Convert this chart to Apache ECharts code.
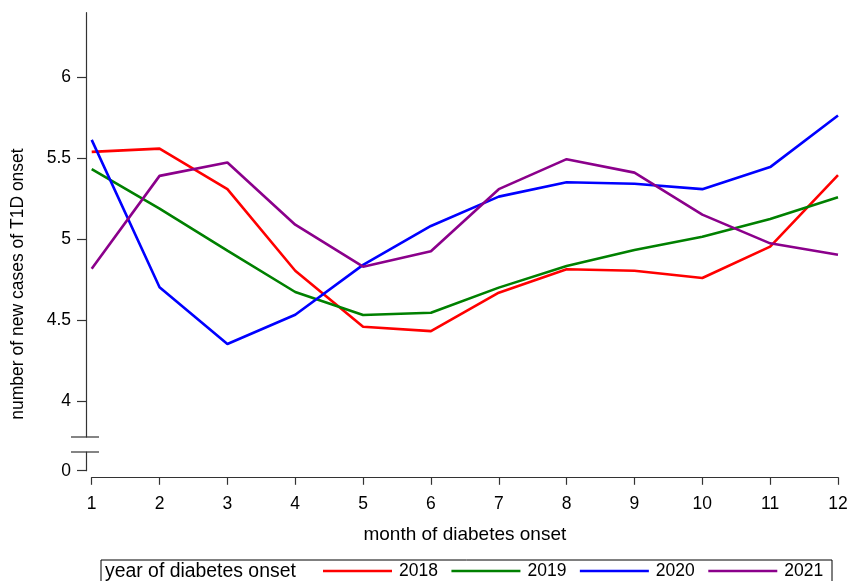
<!DOCTYPE html>
<html><head><meta charset="utf-8">
<script src="https://cdn.jsdelivr.net/npm/echarts@6/dist/echarts.min.js"></script>
<style>html,body{margin:0;padding:0;background:#fff}#c{width:851px;height:581px}</style>
</head><body><div id="c"></div>
<script>
// ---- data ----
const months = [1, 2, 3, 4, 5, 6, 7, 8, 9, 10, 11, 12];
const years = ['2018', '2019', '2020', '2021'];
const cases2018 = [5.537, 5.557, 5.307, 4.804, 4.459, 4.432, 4.669, 4.813, 4.804, 4.759, 4.953, 5.393];
const cases2019 = [5.430, 5.187, 4.928, 4.673, 4.531, 4.545, 4.700, 4.833, 4.932, 5.014, 5.123, 5.257];
const cases2020 = [5.611, 4.702, 4.352, 4.533, 4.840, 5.080, 5.261, 5.350, 5.340, 5.307, 5.443, 5.761];
const cases2021 = [4.817, 5.389, 5.471, 5.088, 4.829, 4.924, 5.307, 5.492, 5.409, 5.150, 4.973, 4.903];
const yTicksUpper = [4, 4.5, 5, 5.5, 6];
const yTicksLower = [0];
const xTicks = months;
const xTitle = 'month of diabetes onset';
const yTitle = 'number of new cases of T1D onset';
const legendTitle = 'year of diabetes onset';

// ---- styling / layout ----
const seriesData = [cases2018, cases2019, cases2020, cases2021];
const colors = ['#ff0000', '#008000', '#0000ff', '#8b008b'];
const FONT = '"Liberation Sans", Arial, Helvetica, sans-serif';
const AX = '#333';
const W = 851, H = 581;
const gLeft = 91.7, gRight = 13;
const upTop = 12.7, upBottomY = 437;
const loTop = 452, loBottomY = 470.7;
const upMin = 3.779, upMax = 6.395;
const pxPerUnit = (upBottomY - upTop) / (upMax - upMin);
const loMax = (loBottomY - loTop) / pxPerUnit;
const axisX = 86;

const chart = echarts.init(document.getElementById('c'), null, {renderer: 'canvas'});

const yAxisCommon = {
  type: 'value',
  position: 'left',
  offset: gLeft - axisX,
  axisLine: {show: true, lineStyle: {color: AX, width: 1.2}},
  axisTick: {show: true, inside: false, length: 9, lineStyle: {color: AX, width: 1.2}},
  splitLine: {show: false},
  axisLabel: {color: '#000', fontSize: 17.5, fontFamily: FONT, margin: 15, formatter: v => String(v)}
};

const option = {
  animation: false,
  backgroundColor: '#fff',
  grid: [
    {left: gLeft, right: gRight, top: upTop, bottom: H - upBottomY},
    {left: gLeft, right: gRight, top: loTop, bottom: H - loBottomY}
  ],
  xAxis: [
    {gridIndex: 0, type: 'value', min: 1, max: 12, show: false},
    {gridIndex: 1, type: 'value', min: 1, max: 12, interval: 1, offset: 6.6,
     axisLine: {show: true, onZero: false, lineStyle: {color: AX, width: 1.2}},
     axisTick: {show: true, length: 7.5, lineStyle: {color: AX, width: 1.2}},
     splitLine: {show: false},
     axisLabel: {color: '#000', fontSize: 17.5, fontFamily: FONT, margin: 18,
                 customValues: xTicks, formatter: v => String(v)},
     name: xTitle, nameLocation: 'middle', nameGap: 48,
     nameTextStyle: {color: '#000', fontSize: 19, fontFamily: FONT}}
  ],
  yAxis: [
    Object.assign({}, yAxisCommon, {gridIndex: 0, min: upMin, max: upMax,
      axisTick: Object.assign({}, yAxisCommon.axisTick, {customValues: yTicksUpper}),
      axisLabel: Object.assign({}, yAxisCommon.axisLabel, {customValues: yTicksUpper})}),
    Object.assign({}, yAxisCommon, {gridIndex: 1, min: 0, max: loMax,
      axisTick: Object.assign({}, yAxisCommon.axisTick, {customValues: yTicksLower}),
      axisLabel: Object.assign({}, yAxisCommon.axisLabel, {customValues: yTicksLower})})
  ],
  legend: {
    data: years, left: 323, top: 562, orient: 'horizontal', padding: 0,
    icon: 'rect', itemWidth: 69, itemHeight: 2.6, itemGap: 13.5,
    textStyle: {color: '#000', fontSize: 17.5, fontFamily: FONT, padding: [0, 0, 0, 2]},
    selectedMode: false
  },
  series: years.map((y, i) => ({
    name: y, type: 'line', xAxisIndex: 0, yAxisIndex: 0,
    data: months.map((m, j) => [m, seriesData[i][j]]),
    symbol: 'none', showSymbol: false,
    lineStyle: {color: colors[i], width: 2.6},
    itemStyle: {color: colors[i]},
    emphasis: {disabled: true}
  })),
  graphic: [
    {type: 'line', shape: {x1: 71, y1: upBottomY, x2: 99, y2: upBottomY}, style: {stroke: AX, lineWidth: 1.2}},
    {type: 'line', shape: {x1: 71, y1: loTop, x2: 99, y2: loTop}, style: {stroke: AX, lineWidth: 1.2}},
    {type: 'rect', shape: {x: 101, y: 560, width: 731, height: 40}, style: {fill: 'none', stroke: '#000', lineWidth: 1}},
    {type: 'text', x: 105, y: 572, style: {text: legendTitle, fill: '#000', font: '19.4px ' + FONT, textVerticalAlign: 'middle', textAlign: 'left'}},
    {type: 'text', x: 18, y: 284, rotation: Math.PI / 2,
     style: {text: yTitle, fill: '#000', font: '17.5px ' + FONT, textAlign: 'center', textVerticalAlign: 'middle'}}
  ]
};
chart.setOption(option);
</script>
</body></html>
